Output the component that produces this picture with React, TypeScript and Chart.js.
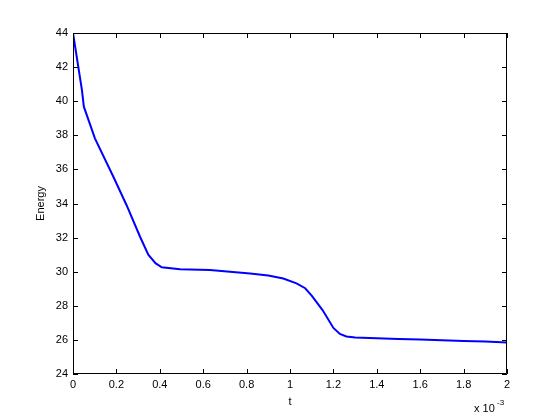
import React, { useEffect, useRef } from "react";
import { Chart, registerables } from "chart.js";

Chart.register(...registerables);

// t in units of 1e-3
const tValues = [0, 0.041, 0.05, 0.101, 0.186, 0.247, 0.309, 0.347, 0.38, 0.409, 0.493, 0.631, 0.816, 0.9, 0.969, 1.03, 1.07, 1.1, 1.15, 1.2, 1.23, 1.26, 1.3, 1.4, 1.5, 1.6, 1.7, 1.8, 1.9, 2.0];
const energyValues = [44, 40.66, 39.68, 37.82, 35.57, 33.9, 32.05, 31.0, 30.5, 30.26, 30.14, 30.1, 29.9, 29.78, 29.6, 29.32, 29.03, 28.6, 27.75, 26.7, 26.35, 26.2, 26.14, 26.1, 26.06, 26.02, 25.98, 25.94, 25.9, 25.85];
const xTicks = [0, 0.2, 0.4, 0.6, 0.8, 1, 1.2, 1.4, 1.6, 1.8, 2];
const yTicks = [24, 26, 28, 30, 32, 34, 36, 38, 40, 42, 44];
const yLabel = "Energy";
const xLabel = "t";

const FONT = "Liberation Sans, Arial, sans-serif";

const decorPlugin = {
  id: "matlabDecor",
  afterDraw(chart: any) {
    const { ctx, chartArea } = chart;
    const xs = chart.scales.x;
    const ys = chart.scales.y;
    const L = 5;
    ctx.save();
    ctx.strokeStyle = "#000";
    ctx.lineWidth = 1;
    ctx.beginPath();
    ctx.rect(chartArea.left + 0.5, chartArea.top + 0.5, chartArea.right - chartArea.left - 1, chartArea.bottom - chartArea.top - 1);
    ctx.stroke();
    ctx.beginPath();
    xTicks.forEach((v) => {
      const px = Math.round(xs.getPixelForValue(v)) + 0.5;
      ctx.moveTo(px, chartArea.bottom);
      ctx.lineTo(px, chartArea.bottom - L);
      ctx.moveTo(px, chartArea.top);
      ctx.lineTo(px, chartArea.top + L);
    });
    yTicks.forEach((v) => {
      const py = Math.round(ys.getPixelForValue(v)) + 0.5;
      ctx.moveTo(chartArea.left, py);
      ctx.lineTo(chartArea.left + L, py);
      ctx.moveTo(chartArea.right, py);
      ctx.lineTo(chartArea.right - L, py);
    });
    ctx.stroke();
    ctx.fillStyle = "#000";
    ctx.font = `11px ${FONT}`;
    ctx.textAlign = "center";
    ctx.textBaseline = "middle";
    ctx.fillText(xLabel, (chartArea.left + chartArea.right) / 2, 402);
    ctx.save();
    ctx.translate(41, (chartArea.top + chartArea.bottom) / 2);
    ctx.rotate(-Math.PI / 2);
    ctx.fillText(yLabel, 0, 0);
    ctx.restore();
    ctx.textAlign = "left";
    ctx.fillText("x 10", 474, 409);
    ctx.font = `8px ${FONT}`;
    ctx.fillText("-3", 497, 403);
    ctx.restore();
  },
};

export default function App() {
  const ref = useRef<HTMLCanvasElement>(null);
  useEffect(() => {
    const points = tValues.map((t, i) => ({ x: t, y: energyValues[i] }));
    const chart = new Chart(ref.current!, {
      type: "line",
      data: {
        datasets: [
          {
            data: points,
            borderColor: "#0000FF",
            borderWidth: 2,
            pointRadius: 0,
            tension: 0,
            fill: false,
          },
        ],
      },
      options: {
        responsive: false,
        animation: false,
        layout: { padding: { left: 0, top: 33, right: 53, bottom: 0 } },
        plugins: { legend: { display: false }, tooltip: { enabled: false } },
        scales: {
          x: {
            type: "linear",
            min: 0,
            max: 2,
            afterFit: (s: any) => {
              s.height = 46;
            },
            afterBuildTicks: (s: any) => {
              s.ticks = xTicks.map((v) => ({ value: v }));
            },
            ticks: {
              color: "#000",
              font: { family: FONT, size: 11 },
              padding: 4,
              maxRotation: 0,
              autoSkip: false,
              callback: (v: any) => String(v),
            },
            grid: { display: false, drawTicks: false },
            border: { display: false },
          },
          y: {
            min: 24,
            max: 44,
            afterFit: (s: any) => {
              s.width = 73;
            },
            afterBuildTicks: (s: any) => {
              s.ticks = yTicks.map((v) => ({ value: v }));
            },
            ticks: {
              color: "#000",
              font: { family: FONT, size: 11 },
              padding: 5,
              autoSkip: false,
              callback: (v: any) => String(v),
            },
            grid: { display: false, drawTicks: false },
            border: { display: false },
          },
        },
      },
      plugins: [decorPlugin],
    } as any);
    return () => chart.destroy();
  }, []);
  return (
    <div style={{ position: "absolute", left: 0, top: 0, width: 560, height: 420, background: "#fff" }}>
      <canvas ref={ref} width={560} height={420} />
    </div>
  );
}
